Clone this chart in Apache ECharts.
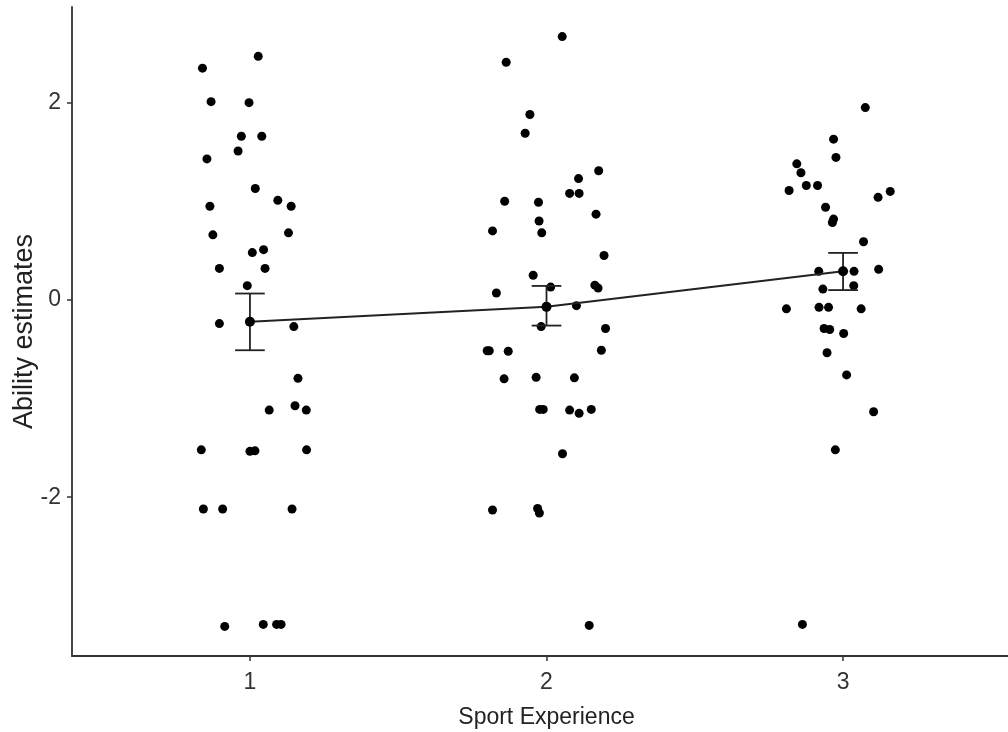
<!DOCTYPE html>
<html>
<head>
<meta charset="utf-8">
<title>Ability estimates by sport experience</title>
<script src="https://cdn.jsdelivr.net/npm/echarts@6/dist/echarts.min.js"></script>
<style>
  html, body { margin: 0; padding: 0; background: #fff; }
  #chart { width: 1008px; height: 732px; }
</style>
</head>
<body>
<div id="chart"></div>
<script>
// groups on the x axis
const categories = [1, 2, 3]
const yTicks = [-2, 0, 2]

// jittered points
const g1X = [0.840, 1.028, 0.869, 0.997, 0.971, 1.040, 0.960, 0.855, 1.018, 1.094, 1.139, 0.865, 0.875, 1.130, 1.008, 1.046, 0.897, 1.051, 0.991, 0.897, 1.148,
  1.162, 1.065, 1.152, 1.190, 0.836, 1.000, 1.017, 1.191, 0.843, 0.908, 1.142, 0.915, 1.045, 1.090, 1.105]
const g1Y = [2.35, 2.47, 2.01, 2.00, 1.66, 1.66, 1.51, 1.43, 1.13, 1.01, 0.95, 0.95, 0.66, 0.68, 0.48, 0.51, 0.32, 0.32, 0.145, -0.24, -0.27,
  -0.795, -1.117, -1.073, -1.117, -1.52, -1.535, -1.53, -1.52, -2.12, -2.12, -2.12, -3.31, -3.29, -3.29, -3.29]

const g2X = [2.053, 1.864, 1.944, 1.928, 2.176, 2.108, 2.078, 2.110, 1.859, 1.973, 2.167, 1.975, 1.818, 1.984, 2.194, 1.955, 1.831, 2.014, 2.163, 2.174, 2.101, 1.982, 2.199,
  1.800, 1.807, 1.871, 2.185, 1.857, 1.965, 2.094, 1.977, 1.989, 2.078, 2.110, 2.151, 2.054, 1.818, 1.970, 1.976, 2.144]
const g2Y = [2.67, 2.41, 1.88, 1.69, 1.31, 1.23, 1.08, 1.08, 1.00, 0.99, 0.87, 0.80, 0.70, 0.68, 0.45, 0.25, 0.07, 0.13, 0.15, 0.12, -0.058, -0.27, -0.29,
  -0.515, -0.515, -0.52, -0.51, -0.80, -0.785, -0.79, -1.11, -1.11, -1.117, -1.15, -1.11, -1.56, -2.13, -2.115, -2.16, -3.30]

const g3X = [3.075, 2.968, 2.976, 2.844, 2.858, 2.818, 2.876, 2.914, 3.159, 3.118, 2.941, 2.968, 2.964, 3.069, 2.918, 3.037, 3.120, 2.932, 3.036, 2.809,
  2.919, 2.951, 3.061, 2.936, 2.955, 3.002, 2.946, 3.012, 3.103, 2.974, 2.863]
const g3Y = [1.95, 1.63, 1.445, 1.38, 1.29, 1.11, 1.16, 1.16, 1.10, 1.04, 0.94, 0.82, 0.785, 0.59, 0.29, 0.29, 0.31, 0.11, 0.145, -0.09,
  -0.075, -0.075, -0.09, -0.29, -0.30, -0.34, -0.535, -0.76, -1.134, -1.52, -3.29]

// group means and error bars
const means = [-0.222, -0.07, 0.29]
const ciLow = [-0.51, -0.26, 0.10]
const ciHigh = [0.065, 0.142, 0.477]

const FONT = '"Liberation Sans", Arial, sans-serif'

function pairs (xs, ys) {
  return xs.map((x, i) => [x, ys[i]])
}

const chart = echarts.init(document.getElementById('chart'))

const pointStyle = { color: '#000', opacity: 1 }

const option = {
  animation: false,
  backgroundColor: '#fff',
  grid: {
    left: 72,
    top: 7,
    width: 949,
    height: 649,
    outerBoundsMode: 'none',
    containLabel: false
  },
  xAxis: {
    type: 'value',
    min: 0.4,
    max: 3.6,
    name: 'Sport Experience',
    nameLocation: 'middle',
    nameGap: 50,
    nameMoveOverlap: false,
    nameTextStyle: { fontFamily: FONT, fontSize: 23, color: '#222' },
    splitLine: { show: false },
    axisLine: { onZero: false, lineStyle: { color: '#333', width: 1.8 } },
    axisTick: { customValues: categories, length: 5, lineStyle: { color: '#333', width: 1.5 } },
    axisLabel: {
      customValues: categories,
      fontFamily: FONT,
      fontSize: 23,
      color: '#333',
      margin: 15
    }
  },
  yAxis: {
    type: 'value',
    min: -3.61,
    max: 2.97,
    name: 'Ability estimates',
    nameLocation: 'middle',
    nameGap: 34,
    nameMoveOverlap: false,
    nameTextStyle: { fontFamily: FONT, fontSize: 27, color: '#222' },
    splitLine: { show: false },
    axisLine: { show: true, onZero: false, lineStyle: { color: '#333', width: 1.8 } },
    axisTick: { show: true, customValues: yTicks, length: 5, lineStyle: { color: '#333', width: 1.5 } },
    axisLabel: {
      customValues: yTicks,
      fontFamily: FONT,
      fontSize: 23,
      color: '#333',
      margin: 11
    }
  },
  series: [
    {
      type: 'scatter',
      data: pairs(g1X, g1Y),
      symbolSize: 9,
      itemStyle: pointStyle
    },
    {
      type: 'scatter',
      data: pairs(g2X, g2Y),
      symbolSize: 9,
      itemStyle: pointStyle
    },
    {
      type: 'scatter',
      data: pairs(g3X, g3Y),
      symbolSize: 9,
      itemStyle: pointStyle
    },
    {
      type: 'custom',
      data: categories.map((c, i) => [c, ciLow[i], ciHigh[i]]),
      z: 5,
      renderItem (params, api) {
        const x = api.value(0)
        const bot = api.coord([x, api.value(1)])
        const top = api.coord([x, api.value(2)])
        const half = api.size([0.05, 0])[0]
        const style = { stroke: '#222', lineWidth: 1.8 }
        return {
          type: 'group',
          children: [
            { type: 'line', shape: { x1: top[0], y1: top[1], x2: bot[0], y2: bot[1] }, style },
            { type: 'line', shape: { x1: top[0] - half, y1: top[1], x2: top[0] + half, y2: top[1] }, style },
            { type: 'line', shape: { x1: bot[0] - half, y1: bot[1], x2: bot[0] + half, y2: bot[1] }, style }
          ]
        }
      }
    },
    {
      type: 'line',
      data: categories.map((c, i) => [c, means[i]]),
      z: 6,
      symbol: 'circle',
      symbolSize: 10,
      itemStyle: { color: '#000' },
      lineStyle: { color: '#222', width: 2 }
    }
  ]
}

chart.setOption(option)
</script>
</body>
</html>
